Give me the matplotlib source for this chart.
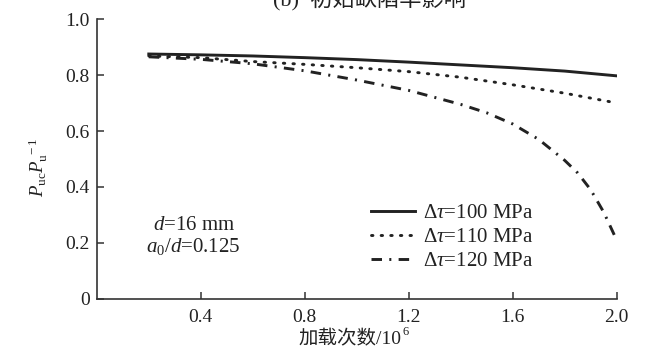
import matplotlib
matplotlib.use("Agg")
import matplotlib.pyplot as plt

plt.rcParams['font.family'] = ['Liberation Serif', 'Noto Sans CJK SC', 'DejaVu Sans']
plt.rcParams['mathtext.fontset'] = 'custom'
plt.rcParams['mathtext.rm'] = 'Liberation Serif'
plt.rcParams['mathtext.it'] = 'Liberation Serif:italic'
plt.rcParams['mathtext.bf'] = 'Liberation Serif:bold'

# ---- data ----
x_solid = [0.2, 0.4, 0.6, 0.8, 1.0, 1.2, 1.4, 1.6, 1.8, 2.0]
y_100 = [0.875, 0.872, 0.868, 0.862, 0.855, 0.846, 0.836, 0.826, 0.814, 0.797]
x_dot = [0.2, 0.4, 0.6, 0.8, 1.0, 1.2, 1.4, 1.6, 1.8, 2.0]
y_110 = [0.868, 0.862, 0.848, 0.838, 0.826, 0.812, 0.792, 0.765, 0.735, 0.700]
x_dd = [0.2, 0.4, 0.6, 0.8, 1.0, 1.2, 1.4, 1.5, 1.6, 1.7, 1.8, 1.85, 1.9, 1.95, 2.0]
y_120 = [0.865, 0.856, 0.840, 0.815, 0.782, 0.745, 0.695, 0.665, 0.625, 0.570,
         0.495, 0.450, 0.390, 0.310, 0.210]
labels = [r'$\Delta\tau$=100 MPa', r'$\Delta\tau$=110 MPa', r'$\Delta\tau$=120 MPa']
xticks = [0.4, 0.8, 1.2, 1.6, 2.0]
xticklabels = ['0.4', '0.8', '1.2', '1.6', '2.0']
yticks = [0, 0.2, 0.4, 0.6, 0.8, 1.0]
yticklabels = ['0', '0.2', '0.4', '0.6', '0.8', '1.0']

ink = '#222222'
fig = plt.figure(figsize=(6.54, 3.52), dpi=100)
ax = fig.add_axes([0.148, 0.1506, 0.795, 0.7954])

ax.plot(x_solid, y_100, color=ink, lw=2.1, ls='-', label=labels[0])
ax.plot(x_dot, y_110, color=ink, lw=2.1, ls=(0, (0.5, 2.8)), dash_capstyle='round', label=labels[1])
ax.plot(x_dd, y_120, color=ink, lw=2.1, ls=(0, (3.6, 2.5, 0.7, 2.5)), label=labels[2])

ax.set_xlim(0, 2.0)
ax.set_ylim(0, 1.0)
for s in ['top', 'right']:
    ax.spines[s].set_visible(False)
for s in ['left', 'bottom']:
    ax.spines[s].set_color('#333333')
    ax.spines[s].set_linewidth(1.2)
ax.set_xticks(xticks)
ax.set_xticklabels(xticklabels)
ax.set_yticks(yticks)
ax.set_yticklabels(yticklabels)
ax.tick_params(direction='in', length=5, width=1.1, color='#333333', labelsize=14,
               labelcolor=ink)
ax.tick_params(axis='x', pad=7)
ax.tick_params(axis='y', pad=5)

ax.set_ylabel(r'$P_{\mathrm{uc}}P_{\mathrm{u}}^{\ -1}$', fontsize=13.5, color=ink)
ax.yaxis.set_label_coords(-0.09, 0.47)

ax.text(0.215, 0.264, r'$d$=16 mm', fontsize=15, color=ink, va='center', ha='left')
ax.text(0.19, 0.186, r'$a_0/d$=0.125', fontsize=15, color=ink, va='center', ha='left')

leg = ax.legend(loc='upper left', bbox_to_anchor=(0.527, 0.34), frameon=False,
                fontsize=15, handlelength=2.1, handletextpad=0.4, labelspacing=0.2,
                borderaxespad=0, borderpad=0)
for t in leg.get_texts():
    t.set_color(ink)

# x label with superscript
xl = fig.text(0.535, 0.035, '加载次数/10', fontsize=14, color=ink, ha='center', va='center')
fig.canvas.draw()
bb = xl.get_window_extent()
ymid = (bb.y0 + bb.y1) / 2
fig.text((bb.x1 + 1) / fig.bbox.width, (ymid + 2) / fig.bbox.height, '6', fontsize=9,
         color=ink, ha='left', va='bottom')

# clipped title at top
fig.text(0.565, 1.0, '(b)  初始缺陷率影响', fontsize=16, color=ink, ha='center', va='center')

fig.savefig('out.png', dpi=100)
